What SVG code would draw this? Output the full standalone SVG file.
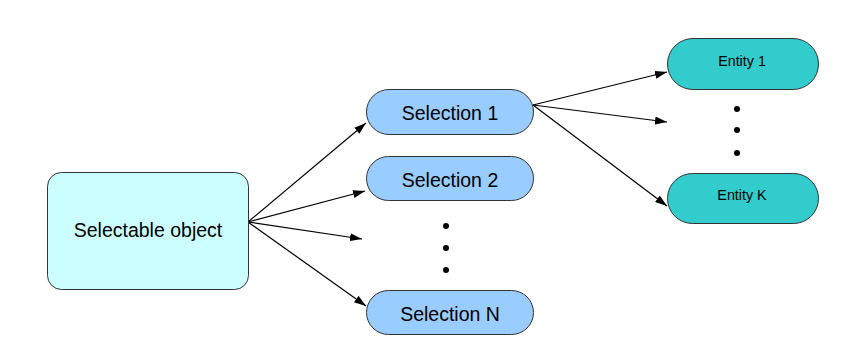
<svg xmlns="http://www.w3.org/2000/svg" width="856" height="352" viewBox="0 0 856 352">
<defs>
<marker id="arr" viewBox="0 0 12 8" refX="12" refY="4" markerWidth="12" markerHeight="8" markerUnits="userSpaceOnUse" orient="auto">
<path d="M0,0 L12,4 L0,8 Z" fill="#000"/>
</marker>
</defs>
<style>
.node{stroke:#333;stroke-width:1}
.obj{fill:#CCFFFF}
.sel{fill:#99CCFF}
.ent{fill:#33CCCC}
.t{font-family:"Liberation Sans",Arial,sans-serif;fill:#000;text-anchor:middle}
.big{font-size:19.5px}
.small{font-size:14.3px}
.edge{stroke:#000;stroke-width:1.2;fill:none;marker-end:url(#arr)}
.dot{fill:#000}
</style>
<rect width="856" height="352" fill="#fff"/>
<g id="connectors">
<line class="edge" x1="248" y1="222" x2="366" y2="123"/>
<line class="edge" x1="248" y1="222" x2="365" y2="191"/>
<line class="edge" x1="248" y1="222" x2="362" y2="239"/>
<line class="edge" x1="248" y1="222" x2="366" y2="306"/>
<line class="edge" x1="533" y1="105" x2="667" y2="72"/>
<line class="edge" x1="533" y1="105" x2="667" y2="122"/>
<line class="edge" x1="533" y1="105" x2="667" y2="206"/>
</g>
<g id="selectable-object">
<rect class="node obj" x="47.5" y="172.5" width="201" height="117" rx="14"/>
<text class="t big" x="148" y="237">Selectable object</text>
</g>
<g id="selection-1">
<rect class="node sel" x="366.5" y="89.5" width="167" height="45" rx="22.5"/>
<text class="t big" x="450" y="120">Selection 1</text>
</g>
<g id="selection-2">
<rect class="node sel" x="366.5" y="156.5" width="167" height="44" rx="22"/>
<text class="t big" x="450" y="187">Selection 2</text>
</g>
<g id="selection-dots">
<circle class="dot" cx="446" cy="226" r="3"/>
<circle class="dot" cx="446" cy="248" r="3"/>
<circle class="dot" cx="446" cy="270" r="3"/>
</g>
<g id="selection-n">
<rect class="node sel" x="366.5" y="290.5" width="167" height="44" rx="22"/>
<text class="t big" x="450" y="321">Selection N</text>
</g>
<g id="entity-1">
<rect class="node ent" x="667.5" y="38.5" width="151" height="51" rx="25.5"/>
<text class="t small" x="742" y="66">Entity 1</text>
</g>
<g id="entity-dots">
<circle class="dot" cx="737" cy="109" r="3"/>
<circle class="dot" cx="737" cy="130" r="3"/>
<circle class="dot" cx="737" cy="153" r="3"/>
</g>
<g id="entity-k">
<rect class="node ent" x="667.5" y="173.5" width="151" height="50" rx="25"/>
<text class="t small" x="742" y="200">Entity K</text>
</g>
</svg>
